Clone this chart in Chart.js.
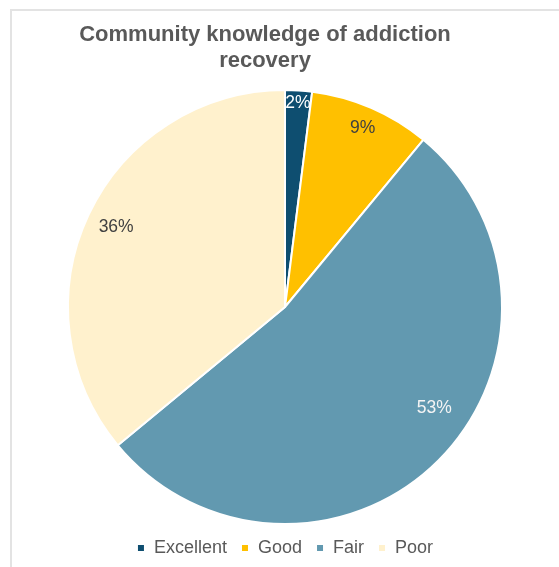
<!DOCTYPE html>
<html>
<head>
<meta charset="utf-8">
<script src="https://cdn.jsdelivr.net/npm/chart.js@4/dist/chart.umd.min.js"></script>
<style>
  html, body { margin: 0; padding: 0; background: #fff; overflow: hidden; }
  #wrap { position: relative; width: 559px; height: 567px; }
  #frame { position: absolute; left: 10px; top: 9px; width: 600px; height: 600px;
           border-left: 2px solid #e3e3e3; border-top: 2px solid #e3e3e3; }
  #myPie { position: absolute; left: 0; top: 0; }
</style>
</head>
<body>
<div id="wrap">
  <div id="frame"></div>
  <canvas id="myPie" width="559" height="567"></canvas>
</div>
<script>
// pie data
const categories = ['Excellent', 'Good', 'Fair', 'Poor'];
const shares = [2, 9, 53, 36];
const titleLines = ['Community knowledge of addiction', 'recovery'];

const sliceColors = ['#0e4e70', '#ffc000', '#6299b0', '#fff1cd'];
const labelColors = ['#ffffff', '#404040', '#f4f4f4', '#404040'];

// how far out the % labels sit, and small angle nudges (degrees)
const labelRadius = [0.94, 0.9, 0.83, 0.86];
const labelNudge = [0, 0, -11, 0];

const pieCanvas = document.getElementById('myPie');

// title drawn by hand so it can sit a bit left of the pie centre
const titlePlugin = {
  id: 'handTitle',
  afterDraw(chart) {
    const ctx = chart.ctx;
    ctx.save();
    ctx.font = 'bold 22px "Liberation Sans", Arial, sans-serif';
    ctx.fillStyle = '#595959';
    ctx.textAlign = 'center';
    ctx.textBaseline = 'alphabetic';
    ctx.fillText(titleLines[0], 265, 41);
    ctx.fillText(titleLines[1], 265, 67);
    ctx.restore();
  }
};

// percent labels inside the slices
const pctPlugin = {
  id: 'pctLabels',
  afterDatasetsDraw(chart) {
    const ctx = chart.ctx;
    const arcs = chart.getDatasetMeta(0).data;
    ctx.save();
    ctx.font = '17.5px "Liberation Sans", Arial, sans-serif';
    ctx.textAlign = 'center';
    ctx.textBaseline = 'middle';
    arcs.forEach((arc, i) => {
      const p = arc.getProps(['x', 'y', 'startAngle', 'endAngle', 'outerRadius'], true);
      const mid = (p.startAngle + p.endAngle) / 2 + labelNudge[i] * Math.PI / 180;
      const r = p.outerRadius * labelRadius[i];
      ctx.fillStyle = labelColors[i];
      ctx.fillText(shares[i] + '%', p.x + Math.cos(mid) * r, p.y + Math.sin(mid) * r);
    });
    ctx.restore();
  }
};

new Chart(pieCanvas, {
  type: 'pie',
  data: {
    labels: categories,
    datasets: [{
      data: shares,
      backgroundColor: sliceColors,
      borderColor: '#ffffff',
      borderWidth: 2
    }]
  },
  options: {
    responsive: false,
    animation: false,
    layout: { padding: { top: 89, left: 11, right: 0, bottom: 0 } },
    plugins: {
      legend: {
        position: 'bottom',
        labels: {
          boxWidth: 8,
          boxHeight: 8,
          padding: 14,
          color: '#595959',
          font: { size: 18, family: '"Liberation Sans", Arial, sans-serif' }
        }
      },
      title: { display: false },
      tooltip: { enabled: false }
    }
  },
  plugins: [titlePlugin, pctPlugin]
});
</script>
</body>
</html>
